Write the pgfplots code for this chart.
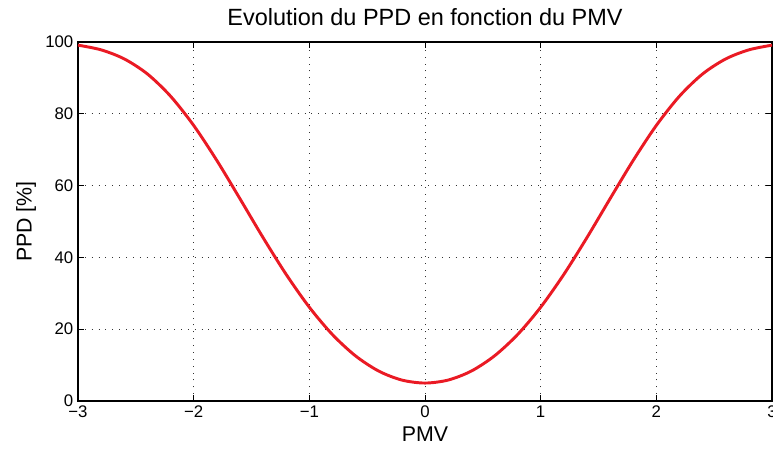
\documentclass[border=0pt]{standalone}
\usepackage{fontspec}
\setmainfont{Liberation Sans}
\usepackage{pgfplots}
\pgfplotsset{compat=1.18}
\usetikzlibrary{calc}
\definecolor{ppdred}{HTML}{EA1A24}

\begin{document}
\begin{tikzpicture}[x=1pt,y=1pt]
\begin{axis}[scale only axis, width=520.5pt, height=269.25pt,
  xmin=-3, xmax=3, ymin=0, ymax=100,
  xtick={-3,-2,-1,0,1,2,3}, xticklabels={−3,−2,−1,0,1,2,3},
  ytick={0,20,40,60,80,100}, yticklabels={0,20,40,60,80,100},
  tick align=inside, major tick length=4.5pt,
  tick style={black, line width=0.6pt},
  axis line style={black, line width=0.8pt},
  grid=major, major grid style={black!80, line width=0.6pt, dash pattern=on 0.75pt off 4.4pt},
  tick label style={font=\fontsize{12.6}{14}\selectfont},
  label style={font=\fontsize{16}{19}\selectfont},
  title style={font=\fontsize{17.6}{21}\selectfont, yshift=3pt},
  title={Evolution du PPD en fonction du PMV},
  xlabel={PMV}, ylabel={PPD [\%]}]
  \addplot[ppdred, line width=2.2pt, smooth] coordinates {
    (-3.0,99.12)(-2.8,97.81)(-2.6,95.29)(-2.4,91.10)(-2.2,84.91)(-2.0,76.76)
    (-1.8,67.02)(-1.6,56.35)(-1.4,45.51)(-1.2,35.25)(-1.0,26.12)(-0.8,18.49)
    (-0.6,12.55)(-0.4,8.33)(-0.2,5.83)(0.0,5.00)(0.2,5.83)(0.4,8.33)
    (0.6,12.55)(0.8,18.49)(1.0,26.12)(1.2,35.25)(1.4,45.51)(1.6,56.35)
    (1.8,67.02)(2.0,76.76)(2.2,84.91)(2.4,91.10)(2.6,95.29)(2.8,97.81)(3.0,99.12)};
\end{axis}
\pgfresetboundingbox
\path[use as bounding box] ($(current axis.south west)+(-58.5pt,-38.25pt)$) rectangle ($(current axis.north east)+(0.75pt,31.5pt)$);
\end{tikzpicture}
\end{document}
